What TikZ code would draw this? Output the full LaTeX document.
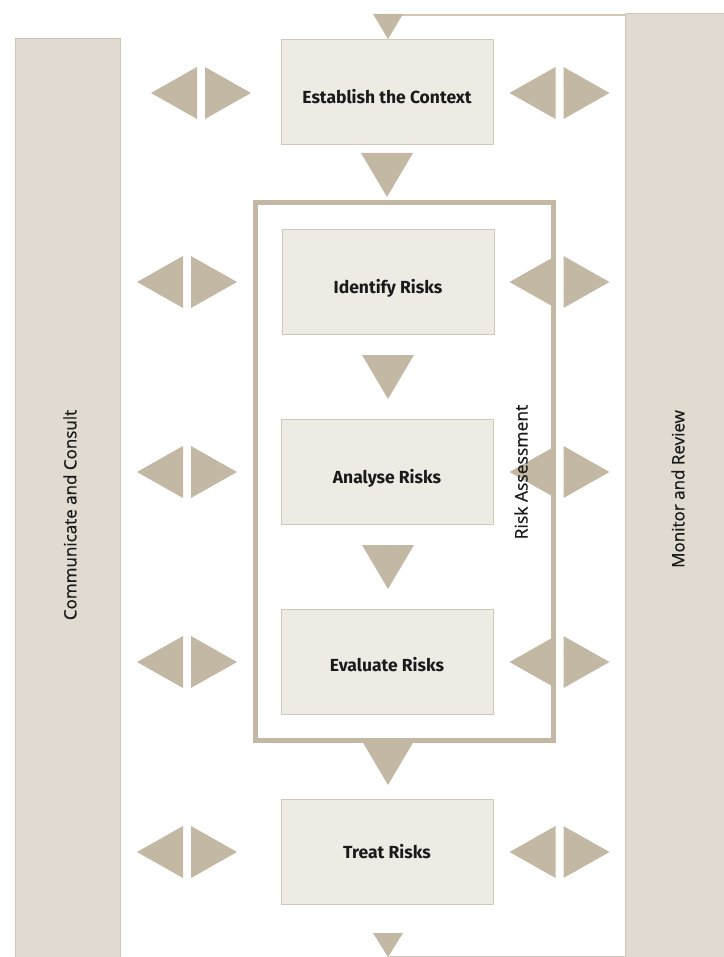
\documentclass[tikz,border=0pt]{standalone}
\usepackage{fontspec}
\setmainfont[FakeBold=0.7]{Open Sans}
\newfontfamily\boxfont{Fira Sans}
\definecolor{tricol}{HTML}{C2B8A3}
\definecolor{boxfill}{HTML}{EEEAE4}
\definecolor{boxline}{HTML}{D2C8B6}
\definecolor{barfill}{HTML}{E0DAD0}
\definecolor{barline}{HTML}{CEC5B4}
\definecolor{txt}{HTML}{1A1A1A}
\tikzset{
  x=1pt, y=-1pt,
  stepbox/.style={draw=boxline, line width=1pt, fill=boxfill, minimum width=212pt, minimum height=105pt, inner sep=0pt},
  steptext/.style={font=\boxfont\bfseries\fontsize{17.5}{20}\selectfont, text=txt, inner sep=0pt},
  sidebar/.style={draw=barline, line width=1pt, fill=barfill, inner sep=0pt},
  sidelabel/.style={rotate=90, font=\fontsize{17}{20}\selectfont, text=txt, inner sep=0pt},
  tri/.style={fill=tricol},
  pics/lrpair/.style={code={
    \fill[tri] (-4,-26) -- (-4,26) -- (-50,0) -- cycle;
    \fill[tri] (4,-26) -- (4,26) -- (50,0) -- cycle;
  }},
  pics/downtri/.style={code={
    \fill[tri] (-26,0) -- (26,0) -- (0,44) -- cycle;
  }}
}
\begin{document}
\begin{tikzpicture}
\useasboundingbox (0,0) rectangle (723,957);
% side bars
\node[sidebar, minimum width=105pt, minimum height=920pt] (cc) at (67.5,499) {};
\node[sidebar, minimum width=100pt, minimum height=946pt] (mr) at (675,487) {};
\node[sidelabel] (cclab) at (70,515) {Communicate and Consult};
\node[sidelabel] (mrlab) at (678,489) {Monitor and Review};
% loop lines
\coordinate (topin) at (388,15);
\coordinate (botout) at (388,956);
\draw[boxline, line width=2.5pt] (topin) -- (mr.north west |- topin);
\draw[boxline, line width=1pt] (botout) -- (mr.west |- botout);
\fill[tri] (373,14) -- (403,14) -- (388,39) -- cycle;
\fill[tri] (373,933) -- (403,933) -- (388,957) -- cycle;
% boxes
\node[stepbox] (ctx) at (387,92.5) {};
\node[stepbox] (idr) at (388,282) {};
\node[stepbox] (anr) at (387,472) {};
\node[stepbox] (evr) at (387,661.5) {};
\node[stepbox] (trr) at (387,851.5) {};
\node[steptext] (ctxt) at ([yshift=-4pt]ctx.center) {Establish the Context};
\node[steptext] (idrt) at ([yshift=-6pt]idr.center) {Identify Risks};
\node[steptext] (anrt) at ([yshift=-6pt]anr.center) {Analyse Risks};
\node[steptext] (evrt) at ([yshift=-3pt]evr.center) {Evaluate Risks};
\node[steptext] (trrt) at ([yshift=0pt]trr.center) {Treat Risks};
% left/right arrow pairs
\pic at (201,93) {lrpair};
\pic at (559.5,93) {lrpair};
\foreach \yy in {282,472,662,852} {
  \pic at (187,\yy) {lrpair};
  \pic at (559.5,\yy) {lrpair};
}
% down arrows
\pic at (387,153) {downtri};
\pic at (388,355) {downtri};
\pic at (388,545) {downtri};
\pic at (388,741) {downtri};
% risk assessment frame
\draw[tricol, line width=5pt] (255.5,202.5) rectangle (553.5,740.5);
\node[sidelabel, font=\fontsize{17.5}{20}\selectfont] (ralab) at (521,472) {Risk Assessment};
\end{tikzpicture}
\end{document}
